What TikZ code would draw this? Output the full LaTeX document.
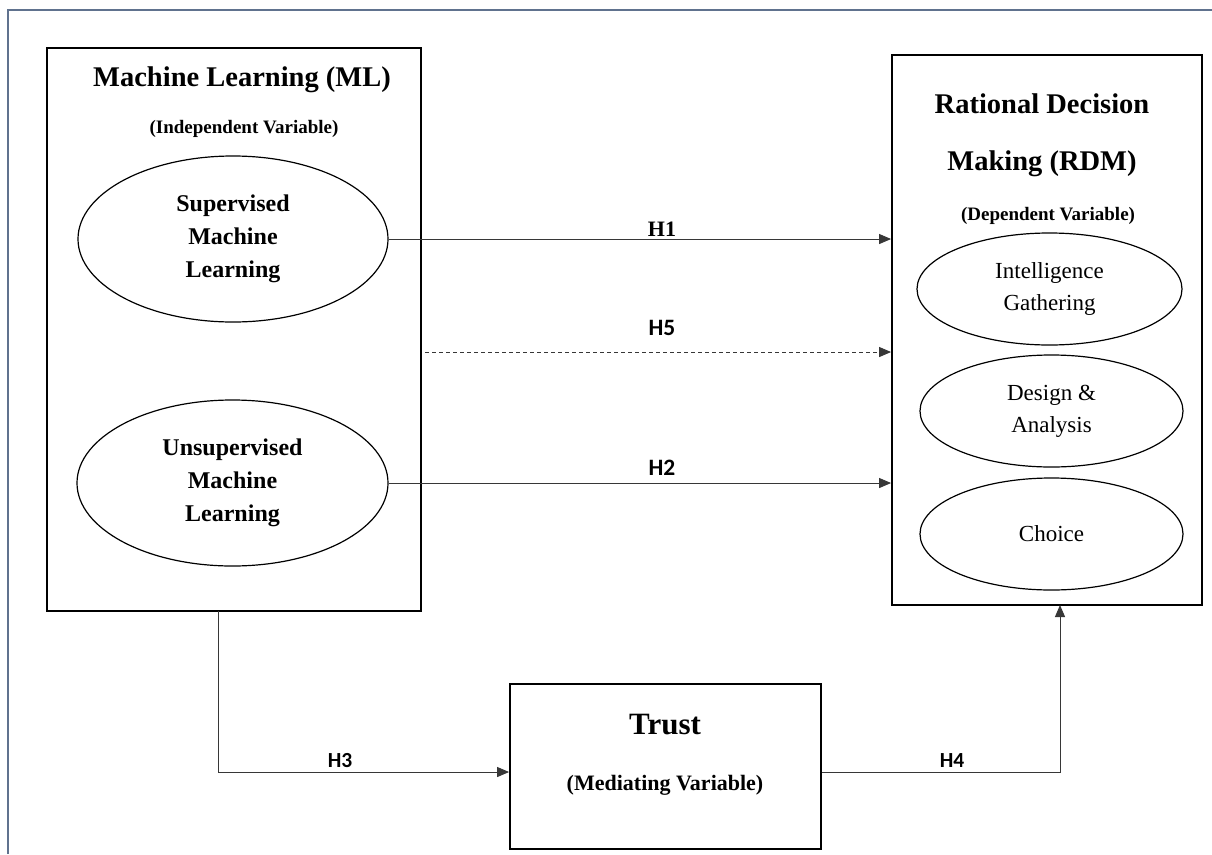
\documentclass[tikz,border=0pt]{standalone}
\usepackage{fontspec}
\newfontfamily\calfont{Carlito}
\newfontfamily\pal{Liberation Serif}
\usetikzlibrary{arrows.meta,shapes.geometric}
\definecolor{framec}{RGB}{96,114,142}
\definecolor{linec}{RGB}{55,55,55}
\tikzset{
  bigbox/.style={draw=black,line width=1.8pt,rectangle,inner sep=0pt},
  oval/.style={draw=black,line width=1.2pt,ellipse,inner sep=0pt,align=center},
  conn/.style={draw=linec,line width=1pt},
  arr/.style={conn,-{Triangle[length=12pt,width=10pt]}},
  ttl/.style={anchor=base,inner sep=0pt,font=\pal\bfseries\fontsize{28.5}{32}\selectfont},
  sub/.style={anchor=base,inner sep=0pt,font=\pal\bfseries\fontsize{19}{22}\selectfont},
  hlab/.style={anchor=base,inner sep=0pt,font=\calfont\bfseries\fontsize{23.5}{26}\selectfont},
  hlabs/.style={anchor=base,inner sep=0pt,font=\calfont\bfseries\fontsize{21.5}{24}\selectfont},
}
\begin{document}
\begin{tikzpicture}[x=1pt,y=-1pt]
\useasboundingbox (0,0) rectangle (1212,854);
% outer frame (only top and left visible)
\draw[framec,line width=1.6pt] (8,854) -- (8,10) -- (1212,10);

% left box
\node[bigbox,minimum width=374pt,minimum height=563pt] (ml) at (234,329.5) {};
\node[ttl] (mlt) at (242,86) {Machine Learning (ML)};
\node[sub] (mls) at (244,133) {(Independent Variable)};
\node[oval,minimum width=310pt,minimum height=166pt,font=\pal\bfseries\fontsize{24}{33}\selectfont] (sup) at (233,239) {Supervised\\Machine\\Learning};
\node[oval,minimum width=311pt,minimum height=166pt,font=\pal\bfseries\fontsize{24}{33}\selectfont] (uns) at (232.5,483) {Unsupervised\\Machine\\Learning};

% right box
\node[bigbox,minimum width=310pt,minimum height=550pt] (rdm) at (1047,330) {};
\node[ttl] (rdt1) at (1042,113) {Rational Decision};
\node[ttl] (rdt2) at (1042,170) {Making (RDM)};
\node[sub] (rds) at (1048,220) {(Dependent Variable)};
\node[oval,minimum width=265pt,minimum height=112pt,font=\pal\fontsize{23}{32}\selectfont] (int) at (1049.5,289) {Intelligence\\Gathering};
\node[oval,minimum width=263pt,minimum height=112pt,font=\pal\fontsize{23}{32}\selectfont] (des) at (1051.5,411) {Design \&\\Analysis};
\node[oval,minimum width=263pt,minimum height=112pt,font=\pal\fontsize{23}{32}\selectfont] (cho) at (1051.5,534) {Choice};

% trust box
\node[bigbox,minimum width=311pt,minimum height=165pt] (tr) at (665.5,766.5) {};
\node[anchor=base,inner sep=0pt,font=\pal\bfseries\fontsize{31}{34}\selectfont] (trt) at (665,734) {Trust};
\node[anchor=base,inner sep=0pt,font=\pal\bfseries\fontsize{22}{25}\selectfont] (trs) at (665,790) {(Mediating Variable)};

% connectors
\draw[arr] (sup.east) -- (sup.east -| rdm.west);
\node[anchor=base,inner sep=0pt,font=\pal\bfseries\fontsize{22}{24}\selectfont] (h1) at (662,236) {H1};

\coordinate (h5s) at (425,352);
\draw[arr,dashed,dash pattern=on 4pt off 3pt] (h5s) -- (h5s -| rdm.west);
\node[hlab] (h5) at (662,335) {H5};

\draw[arr] (uns.east) -- (uns.east -| rdm.west);
\node[hlab] (h2) at (662,475) {H2};

\coordinate (h3s) at (218,611);
\coordinate (h3c) at (218,772);
\draw[arr] (h3s) -- (h3c) -- (h3c -| tr.west);
\node[hlabs] (h3) at (340,767) {H3};

\coordinate (h4c) at (1060,772);
\coordinate (h4e) at (1060,605);
\draw[arr] (h3c -| tr.east) -- (h4c) -- (h4e);
\node[hlabs] (h4) at (952,767) {H4};
\end{tikzpicture}
\end{document}
